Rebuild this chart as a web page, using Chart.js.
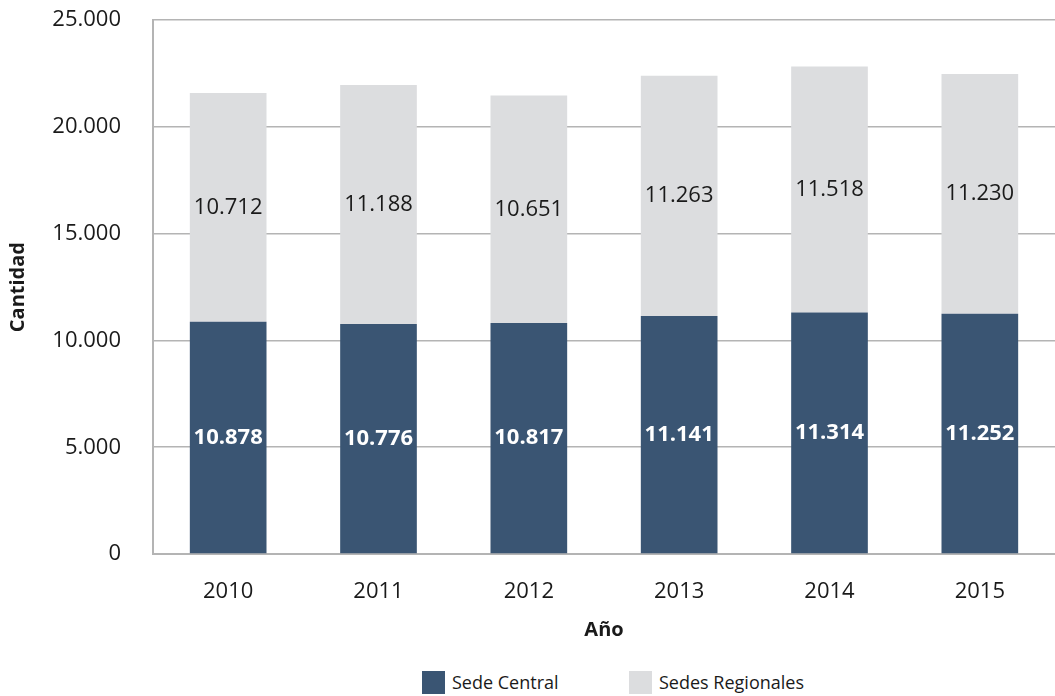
<!DOCTYPE html>
<html>
<head>
<meta charset="utf-8">
<script src="https://cdn.jsdelivr.net/npm/chart.js@4"></script>
<style>
  html, body { margin: 0; padding: 0; background: #fff; overflow: hidden; }
  #wrap { width: 1055px; height: 675px; position: absolute; top: -25px; left: 0; }
  #legend { position: absolute; top: 670px; left: 422px; display: flex; font: 18px 'Open Sans', 'Noto Sans', sans-serif; color: #1a1a1a; }
  .item { display: flex; align-items: center; }
  .item:first-child { width: 207px; }
  .box { width: 23px; height: 23px; margin-right: 7px; }
</style>
</head>
<body>
<div id="wrap"><canvas id="chart"></canvas></div>
<div id="legend"></div>
<script>
'use strict';

/* ── Data ───────────────────────────────── */
const years = ['2010', '2011', '2012', '2013', '2014', '2015'];
const sedeCentral = [10878, 10776, 10817, 11141, 11314, 11252];
const sedesRegionales = [10712, 11188, 10651, 11263, 11518, 11230];

const FONT = "'Open Sans', 'Noto Sans', sans-serif";
const fmt = v => Math.round(v).toString().replace(/\B(?=(\d{3})+(?!\d))/g, '.');

/* ── Value labels in the middle of each segment ─────────── */
const segLabels = {
  id: 'segLabels',
  afterDatasetsDraw(chart) {
    const ctx = chart.ctx;
    ctx.save();
    ctx.textAlign = 'center';
    ctx.textBaseline = 'middle';
    chart.data.datasets.forEach((ds, i) => {
      chart.getDatasetMeta(i).data.forEach((bar, j) => {
        const y = (bar.y + bar.base) / 2;
        ctx.font = (i === 0 ? '700 ' : '400 ') + '22px ' + FONT;
        ctx.fillStyle = i === 0 ? '#ffffff' : '#1a1a1a';
        ctx.fillText(fmt(ds.data[j]), bar.x, y);
      });
    });
    ctx.restore();
  }
};

const chart = new Chart(document.getElementById('chart'), {
  type: 'bar',
  data: {
    labels: years,
    datasets: [
      { label: 'Sede Central', data: sedeCentral, backgroundColor: '#3a5573', barPercentage: 0.51, categoryPercentage: 1 },
      { label: 'Sedes Regionales', data: sedesRegionales, backgroundColor: '#dcdddf', barPercentage: 0.51, categoryPercentage: 1 }
    ]
  },
  options: {
    responsive: true,
    maintainAspectRatio: false,
    animation: false,
    layout: { padding: 0 },
    plugins: {
      tooltip: { enabled: false },
      legend: { display: false }
    },
    scales: {
      x: {
        stacked: true,
        afterFit: s => { s.height = 96; },
        grid: { display: false, drawTicks: false },
        border: { color: '#b4b4b4', width: 2 },
        ticks: { font: { size: 22, family: FONT }, color: '#1a1a1a', padding: 25 },
        title: { display: true, text: 'Año', font: { size: 20, weight: '700', family: FONT }, color: '#1a1a1a', padding: { top: 0, bottom: 8 } }
      },
      y: {
        stacked: true,
        min: 0,
        max: 25000,
        afterFit: s => { s.width = 153; },
        ticks: { stepSize: 5000, callback: v => fmt(v), font: { size: 22, family: FONT }, color: '#1a1a1a', padding: 32 },
        grid: { color: '#b4b4b4', lineWidth: 1.5, drawTicks: false },
        border: { color: '#b4b4b4', width: 2 },
        title: { display: true, text: 'Cantidad', font: { size: 20, weight: '700', family: FONT }, color: '#1a1a1a', padding: { top: 6, bottom: 0 } }
      }
    }
  },
  plugins: [segLabels]
});

/* ── Legend ─────────────────────────────── */
const lg = document.getElementById('legend');
chart.data.datasets.forEach(ds => {
  const it = document.createElement('div');
  it.className = 'item';
  it.innerHTML = `<span class="box" style="background:${ds.backgroundColor}"></span><span>${ds.label}</span>`;
  lg.appendChild(it);
});
</script>
</body>
</html>
